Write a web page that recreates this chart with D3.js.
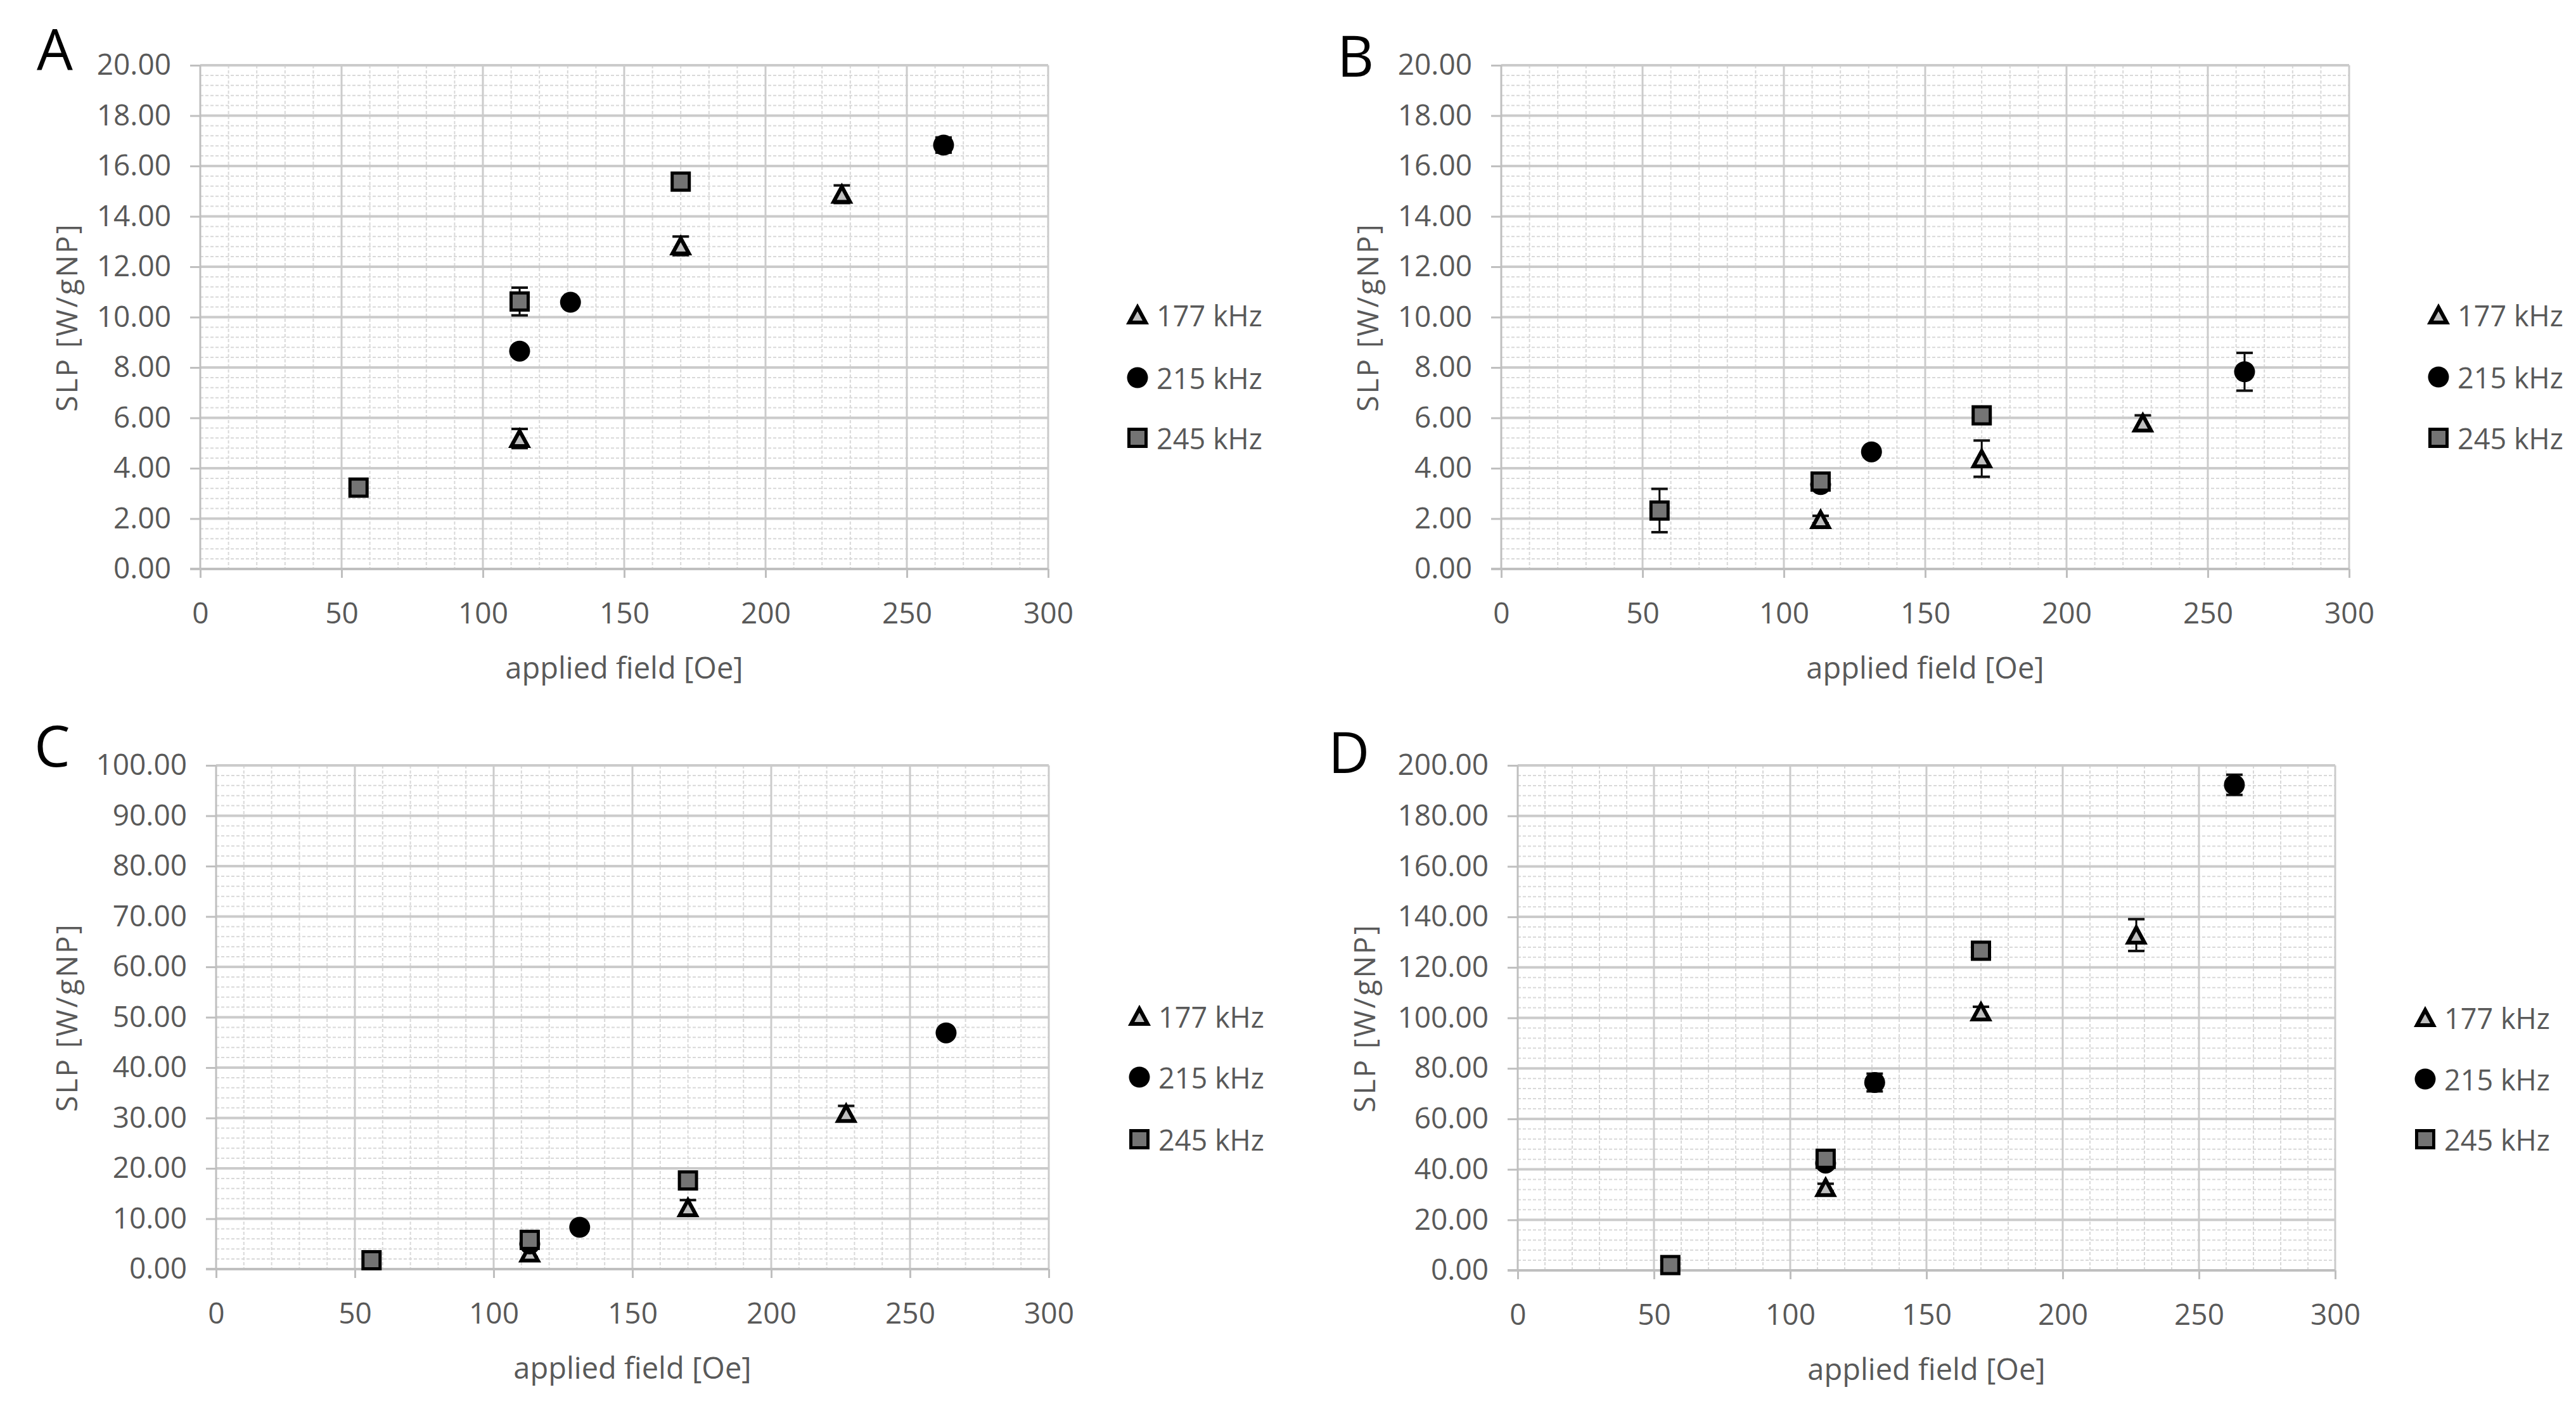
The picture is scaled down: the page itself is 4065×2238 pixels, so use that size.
<!DOCTYPE html>
<html>
<head>
<meta charset="utf-8">
<script src="https://cdn.jsdelivr.net/npm/d3@7"></script>
<style>
  html, body { margin: 0; background: #fff; }
  svg { display: block; }
</style>
</head>
<body>
<svg id="fig" width="4065" height="2238"></svg>
<script>
// ---- data ----
const SERIES_NAMES = ['177 kHz', '215 kHz', '245 kHz'];
const X_TICKS = [0, 50, 100, 150, 200, 250, 300];

// applied field [Oe] per series
const FIELD_177 = [113, 170, 227];
const FIELD_215 = [113, 131, 263];
const FIELD_245 = [56, 113, 170];

// panel A  (SLP, W/gNP)
const A_177 = [5.18, 12.83, 14.88], A_177_ERR = [0.38, 0.37, 0.35];
const A_215 = [8.65, 10.59, 16.83], A_215_ERR = [0.2, 0.2, 0.3];
const A_245 = [3.23, 10.62, 15.38], A_245_ERR = [0.3, 0.55, 0.2];

// panel B
const B_177 = [1.96, 4.38, 5.80], B_177_ERR = [0.15, 0.72, 0.3];
const B_215 = [3.35, 4.65, 7.83], B_215_ERR = [0.2, 0.15, 0.75];
const B_245 = [2.32, 3.47, 6.10], B_245_ERR = [0.86, 0.25, 0.2];

// panel C
const C_177 = [3.2, 12.2, 30.9], C_177_ERR = [0.8, 1.5, 1.5];
const C_215 = [5.0, 8.3, 46.9], C_215_ERR = [0.5, 0.8, 1.0];
const C_245 = [1.76, 5.8, 17.6], C_245_ERR = [0.5, 1.0, 1.0];

// panel D
const D_177 = [32.8, 102.4, 132.8], D_177_ERR = [1.5, 2, 6.3];
const D_215 = [42.5, 74.4, 192.3], D_215_ERR = [2, 3.5, 4];
const D_245 = [2.1, 44.2, 126.6], D_245_ERR = [0.5, 2, 2.5];

const Y_MAX = { A: 20, B: 20, C: 100, D: 200 };
const Y_STEP = { A: 2, B: 2, C: 10, D: 20 };

// ---- layout ----
const FONT = "'Open Sans', 'Liberation Sans', sans-serif";
const TXT = '#595959';
const panels = [
  { id: 'A', left: 316, right: 1654, top: 103, bottom: 898, legX: 1795, legY: [497, 596, 691], letter: [58, 110], yTitleX: 104,
    series: [[FIELD_177, A_177, A_177_ERR], [FIELD_215, A_215, A_215_ERR], [FIELD_245, A_245, A_245_ERR]] },
  { id: 'B', left: 2369, right: 3707, top: 103, bottom: 898, legX: 3848, legY: [497, 595, 691], letter: [2110, 121], yTitleX: 2157,
    series: [[FIELD_177, B_177, B_177_ERR], [FIELD_215, B_215, B_215_ERR], [FIELD_245, B_245, B_245_ERR]] },
  { id: 'C', left: 341, right: 1655, top: 1208, bottom: 2003, legX: 1798, legY: [1604, 1700, 1798], letter: [54, 1210], yTitleX: 104,
    series: [[FIELD_177, C_177, C_177_ERR], [FIELD_215, C_215, C_215_ERR], [FIELD_245, C_245, C_245_ERR]] },
  { id: 'D', left: 2395, right: 3685, top: 1208, bottom: 2005, legX: 3827, legY: [1606, 1703, 1798], letter: [2096, 1220], yTitleX: 2152,
    series: [[FIELD_177, D_177, D_177_ERR], [FIELD_215, D_215, D_215_ERR], [FIELD_245, D_245, D_245_ERR]] }
];

const svg = d3.select('#fig').style('font-family', FONT);

const draw_marker = function(g, kind, cx, cy) {
  if (kind === 0) {
    g.append('path')
      .attr('d', `M${cx},${cy - 12} L${cx + 13},${cy + 12} L${cx - 13},${cy + 12} Z`)
      .attr('fill', '#bfbfbf').attr('stroke', '#000')
      .attr('stroke-width', 6).attr('stroke-linejoin', 'miter');
  } else if (kind === 1) {
    g.append('circle').attr('cx', cx).attr('cy', cy).attr('r', 16.5).attr('fill', '#000');
  } else {
    g.append('rect').attr('x', cx - 13.5).attr('y', cy - 13.5)
      .attr('width', 27).attr('height', 27)
      .attr('fill', '#747474').attr('stroke', '#000').attr('stroke-width', 5);
  }
};

panels.forEach(function(p) {
  const yMax = Y_MAX[p.id], yStep = Y_STEP[p.id];
  const x = d3.scaleLinear().domain([0, 300]).range([p.left, p.right]);
  const y = d3.scaleLinear().domain([0, yMax]).range([p.bottom, p.top]);
  const g = svg.append('g').attr('id', 'panel-' + p.id);

  const yMajor = d3.range(0, yMax + yStep / 2, yStep);
  const yMinor = d3.range(0, yMax + 1e-9, yStep / 5).filter(v => Math.abs(v / yStep - Math.round(v / yStep)) > 1e-6);
  const xMinor = d3.range(0, 301, 10).filter(v => v % 50 !== 0);

  // minor grid (dashed, light)
  g.append('g').selectAll('line').data(yMinor).enter().append('line')
    .attr('x1', p.left).attr('x2', p.right).attr('y1', d => y(d)).attr('y2', d => y(d))
    .attr('stroke', '#d9d9d9').attr('stroke-width', 2).attr('stroke-dasharray', '5,3');
  g.append('g').selectAll('line').data(xMinor).enter().append('line')
    .attr('x1', d => x(d)).attr('x2', d => x(d)).attr('y1', p.top).attr('y2', p.bottom)
    .attr('stroke', '#d9d9d9').attr('stroke-width', 2).attr('stroke-dasharray', '5,3');

  // major grid
  g.append('g').selectAll('line').data(yMajor.slice(1)).enter().append('line')
    .attr('x1', p.left).attr('x2', p.right).attr('y1', d => y(d)).attr('y2', d => y(d))
    .attr('stroke', '#cbcbcb').attr('stroke-width', 4);
  g.append('g').selectAll('line').data(X_TICKS.slice(1)).enter().append('line')
    .attr('x1', d => x(d)).attr('x2', d => x(d)).attr('y1', p.top).attr('y2', p.bottom)
    .attr('stroke', '#cbcbcb').attr('stroke-width', 3);

  // axes
  const yAxis = d3.axisLeft(y).tickValues(yMajor).tickSize(16).tickPadding(30).tickFormat(d3.format('.2f'));
  const xAxis = d3.axisBottom(x).tickValues(X_TICKS).tickSize(14).tickPadding(39).tickFormat(d3.format('d'));
  const ya = g.append('g').attr('transform', `translate(${p.left},0)`).call(yAxis);
  const xa = g.append('g').attr('transform', `translate(0,${p.bottom})`).call(xAxis);
  [ya, xa].forEach(function(a) {
    a.select('.domain').remove();
    a.selectAll('line').attr('stroke', '#bfbfbf').attr('stroke-width', 3);
    a.selectAll('text').attr('fill', TXT).style('font-size', '46px').style('font-family', FONT);
  });
  g.append('line').attr('x1', p.left).attr('x2', p.left).attr('y1', p.top).attr('y2', p.bottom)
    .attr('stroke', '#bfbfbf').attr('stroke-width', 3);
  g.append('line').attr('x1', p.left - 16).attr('x2', p.right).attr('y1', p.bottom).attr('y2', p.bottom)
    .attr('stroke', '#bfbfbf').attr('stroke-width', 4);

  // data: error bars then markers, series by series
  p.series.forEach(function(s, k) {
    const sg = g.append('g').attr('class', 'series-' + k);
    s[0].forEach(function(f, i) {
      const cx = x(f), v = s[1][i], e = s[2][i];
      const y0 = y(v - e), y1 = y(v + e);
      sg.append('line').attr('x1', cx).attr('x2', cx).attr('y1', y0).attr('y2', y1)
        .attr('stroke', '#000').attr('stroke-width', 3);
      [y0, y1].forEach(function(yy) {
        sg.append('line').attr('x1', cx - 13).attr('x2', cx + 13).attr('y1', yy).attr('y2', yy)
          .attr('stroke', '#111').attr('stroke-width', 4);
      });
      draw_marker(sg, k, cx, y(v));
    });
  });

  // legend
  SERIES_NAMES.forEach(function(name, k) {
    draw_marker(g, k, p.legX, p.legY[k]);
    g.append('text').attr('x', p.legX + 30).attr('y', p.legY[k])
      .attr('dominant-baseline', 'central').attr('fill', TXT)
      .style('font-size', '45px').text(name);
  });

  // titles
  g.append('text').attr('x', (p.left + p.right) / 2).attr('y', p.bottom + 155)
    .attr('text-anchor', 'middle').attr('dominant-baseline', 'central')
    .attr('fill', TXT).style('font-size', '47px').text('applied field [Oe]');
  g.append('text')
    .attr('transform', `translate(${p.yTitleX},${(p.top + p.bottom) / 2}) rotate(-90)`)
    .attr('text-anchor', 'middle').attr('dominant-baseline', 'central')
    .attr('fill', TXT).style('font-size', '46px').style('letter-spacing', '3px')
    .text('SLP [W/gNP]');

  // panel letter
  g.append('text').attr('x', p.letter[0]).attr('y', p.letter[1])
    .attr('fill', '#000').style('font-size', '90px').text(p.id);
});
</script>
</body>
</html>
